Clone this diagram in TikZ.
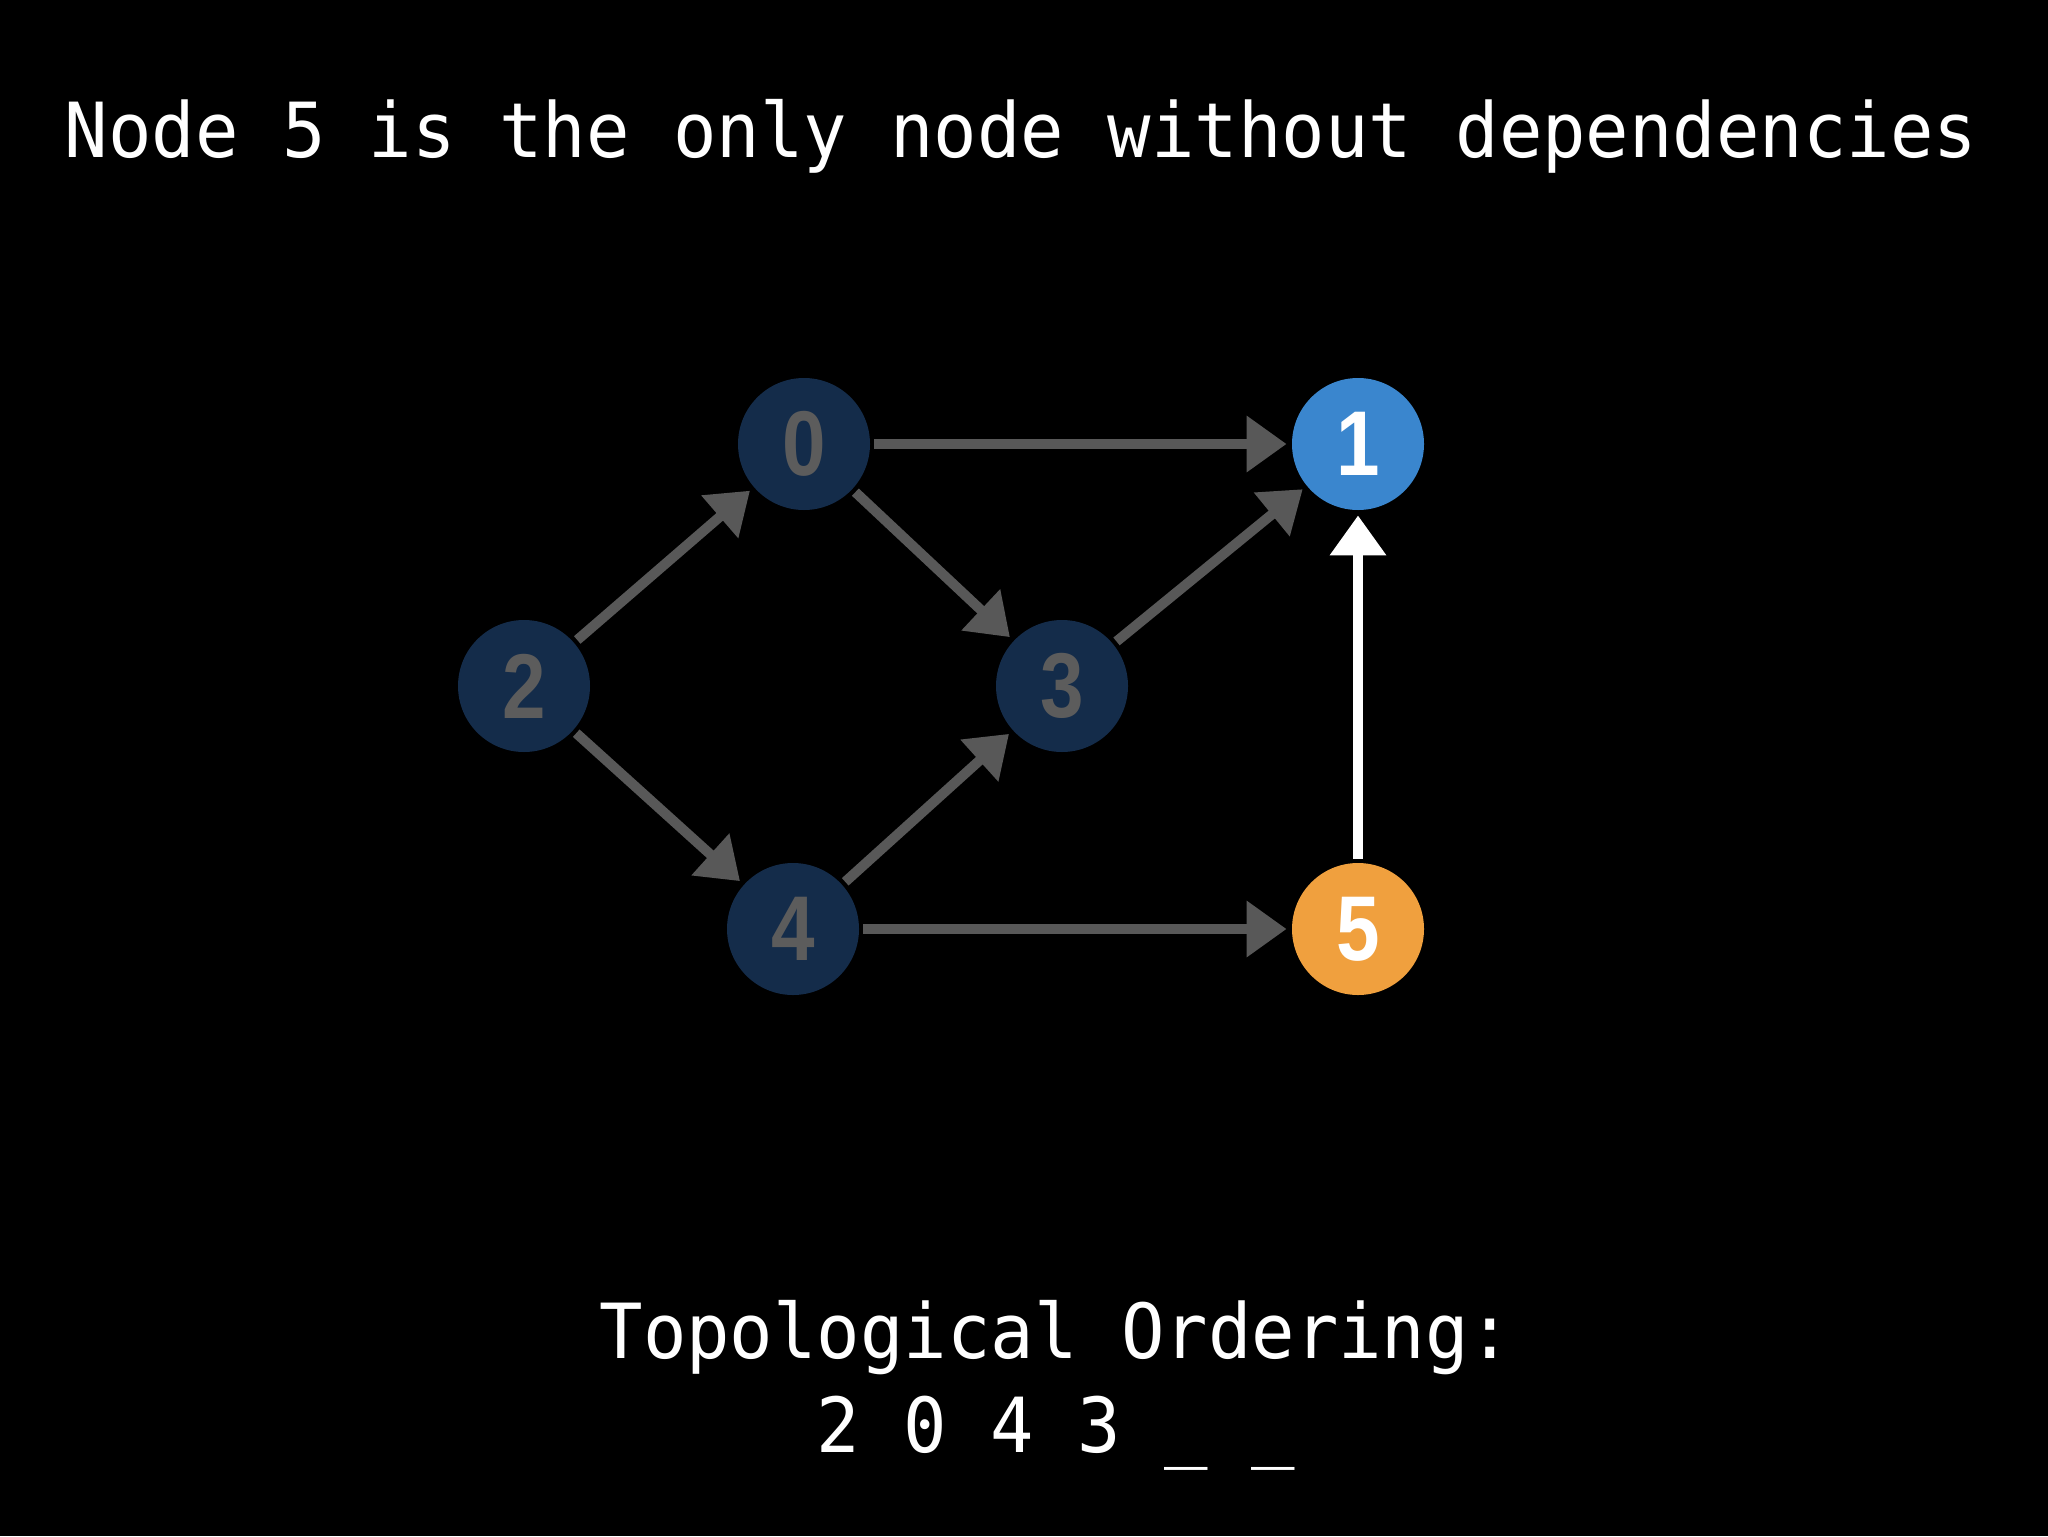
\documentclass[tikz,border=0pt]{standalone}
\usepackage{fontspec}
\setmonofont[FakeStretch=0.95]{DejaVu Sans Mono}
\newfontfamily\numfont[FakeStretch=0.85]{Liberation Sans}
\usetikzlibrary{arrows.meta}
\definecolor{navy}{RGB}{20,44,74}
\definecolor{dimtext}{RGB}{92,92,92}
\definecolor{edgegray}{RGB}{88,88,88}
\definecolor{nodeblue}{RGB}{58,134,206}
\definecolor{nodeorange}{RGB}{240,160,62}
\tikzset{
  gnode/.style={circle, minimum size=66pt, inner sep=0pt, font=\numfont\bfseries\fontsize{46}{46}\selectfont},
  dimnode/.style={gnode, fill=navy, text=dimtext},
  bluenode/.style={gnode, fill=nodeblue, text=white},
  orangenode/.style={gnode, fill=nodeorange, text=white},
  edge/.style={draw=edgegray, line width=5pt, -{Triangle[length=20pt,width=27pt]}, shorten >=2.5pt, shorten <=2pt},
  hotedge/.style={edge, draw=white},
  caption/.style={text=white, font=\ttfamily\fontsize{38}{38}\selectfont, inner sep=0pt, anchor=base}
}
\begin{document}
\begin{tikzpicture}[x=0.5pt, y=-0.5pt]
\fill[black] (0,0) rectangle (2048,1536);
\useasboundingbox (0,0) rectangle (2048,1536);
\node[caption] (title) at (1021,157) {Node 5 is the only node without dependencies};
\node[dimnode] (n0) at (804,444) {0};
\node[bluenode] (n1) at (1358,444) {1};
\node[dimnode] (n2) at (524,686) {2};
\node[dimnode] (n3) at (1062,686) {3};
\node[dimnode] (n4) at (793,929) {4};
\node[orangenode] (n5) at (1358,929) {5};
\draw[edge] (n0) -- (n1);
\draw[edge] (n0) -- (n3);
\draw[edge] (n2) -- (n0);
\draw[edge] (n2) -- (n4);
\draw[edge] (n3) -- (n1);
\draw[edge] (n4) -- (n3);
\draw[edge] (n4) -- (n5);
\draw[hotedge] (n5) -- (n1);
\node[caption] (topo) at (1056,1358) {Topological Ordering:};
\node[caption] (order) at (1056,1452) {2 0 4 3 \_ \_};
\end{tikzpicture}
\end{document}
